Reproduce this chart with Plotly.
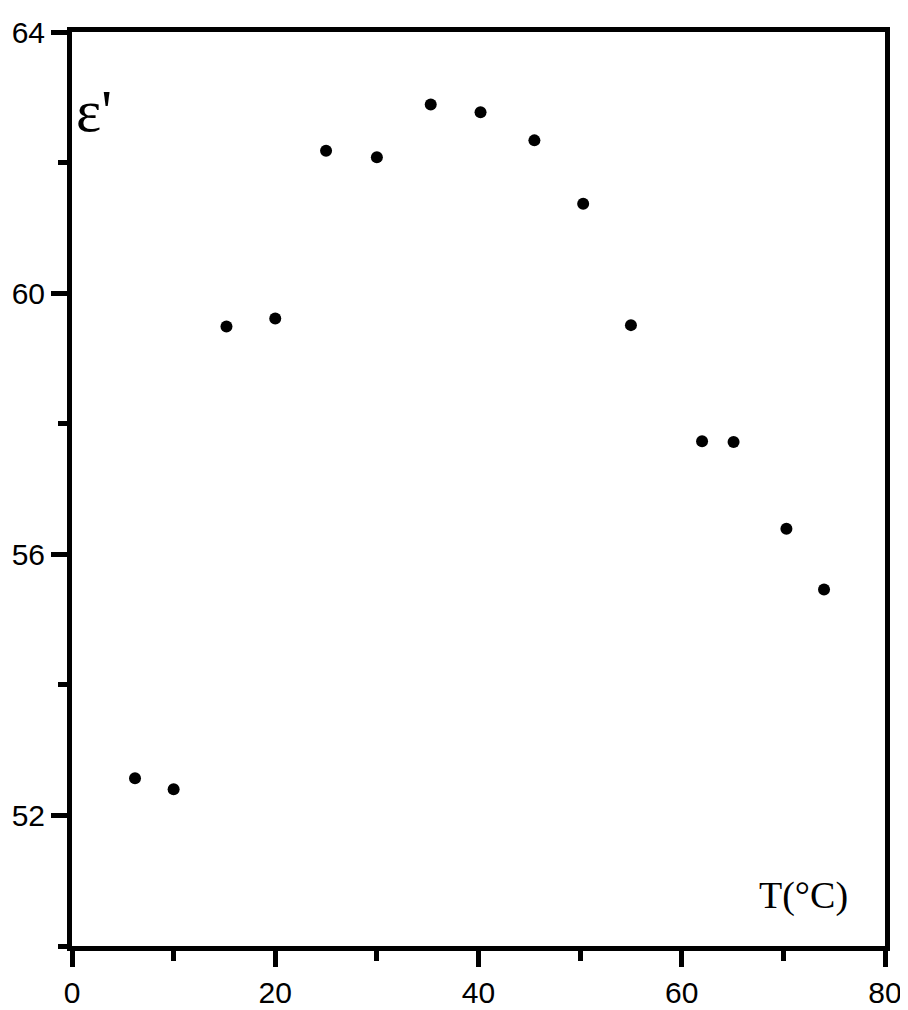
import plotly.graph_objects as go

# Data
temperature = [6.2, 10.0, 15.2, 20.0, 25.0, 30.0, 35.3, 40.2, 45.5, 50.3, 55.0, 62.0, 65.1, 70.3, 74.0]
epsilon = [52.57, 52.40, 59.49, 59.61, 62.18, 62.08, 62.89, 62.77, 62.34, 61.37, 59.51, 57.73, 57.72, 56.39, 55.46]

x_ticks = [0, 20, 40, 60, 80]
y_ticks = [52, 56, 60, 64]

fig = go.Figure()
fig.add_trace(go.Scatter(
    x=temperature, y=epsilon, mode="markers",
    marker=dict(color="black", size=12, line=dict(width=0)),
    showlegend=False, cliponaxis=False,
))

axis_font = dict(family="Liberation Sans, Arial, sans-serif", size=30, color="black")

fig.update_xaxes(
    range=[0, 80], tickvals=x_ticks, ticktext=[str(v) for v in x_ticks],
    showline=True, linecolor="black", linewidth=5, mirror=True,
    ticks="outside", ticklen=16, tickwidth=5, tickcolor="black",
    minor=dict(dtick=10, tick0=0, ticks="outside", ticklen=10, tickwidth=5, tickcolor="black"),
    showgrid=False, zeroline=False, tickfont=axis_font, automargin=False,
)
fig.update_yaxes(
    range=[50, 64], tickvals=y_ticks, ticktext=[str(v) for v in y_ticks],
    showline=True, linecolor="black", linewidth=5, mirror=True,
    ticks="outside", ticklen=16, tickwidth=5, tickcolor="black",
    minor=dict(dtick=2, tick0=50, ticks="outside", ticklen=9, tickwidth=5, tickcolor="black"),
    showgrid=False, zeroline=False, tickfont=axis_font, automargin=False,
)

serif = "Liberation Serif, Times New Roman, serif"
fig.add_annotation(
    text="ε'", xref="paper", yref="paper", x=0.003, y=0.952,
    xanchor="left", yanchor="top", showarrow=False,
    font=dict(family=serif, size=60, color="black"),
)
fig.add_annotation(
    text="T(°C)", xref="paper", yref="paper", x=0.957, y=0.03,
    xanchor="right", yanchor="bottom", showarrow=False,
    font=dict(family=serif, size=38, color="black"),
)

# The page body adds an 8px margin, so the figure is sized to fit the window.
fig.update_layout(
    width=900, height=1002,
    margin=dict(l=64, r=23, t=24, b=64, pad=0),
    plot_bgcolor="white", paper_bgcolor="white",
)

fig.write_html("out.html")
